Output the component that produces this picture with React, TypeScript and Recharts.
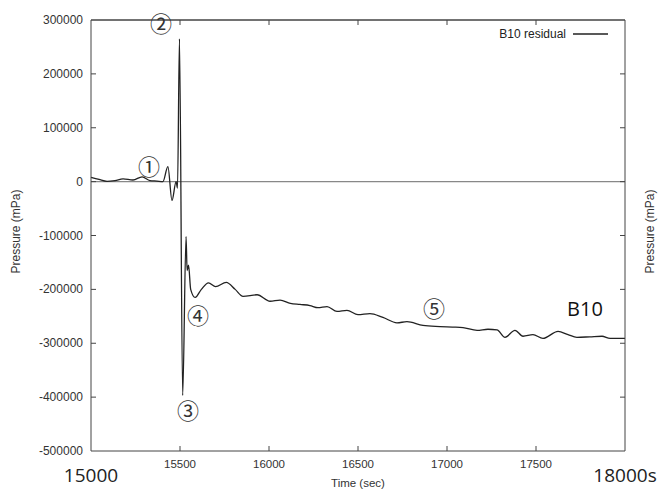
import React from 'react';
import { LineChart, Line, XAxis, YAxis, ReferenceLine, ReferenceDot, Label } from 'recharts';

const times = [
  15000, 15045, 15090, 15135, 15180, 15236, 15287, 15331, 15370, 15404, 15432, 15455, 15478, 15486,
  15497, 15515, 15534, 15540, 15548, 15560, 15585, 15620, 15660, 15700, 15760, 15810, 15854, 15933,
  16006, 16062, 16120, 16174, 16230, 16275, 16326, 16382, 16438, 16500, 16567, 16640, 16719, 16775,
  16865, 16961, 17030, 17090, 17169, 17230, 17281, 17326, 17382, 17427, 17483, 17539, 17624, 17680,
  17730, 17803, 17871, 17916, 18000,
];
const residual = [
  8000, 4000, 500, 2000, 5000, 3000, 9000, 2000, 1000, 0, 28000, -35000, 0, -12000,
  265000, -397000, -102000, -165000, -155000, -200000, -215000, -200000, -188000, -195000, -187000, -200000, -213000, -210000,
  -222000, -220000, -226000, -228000, -230000, -234000, -232000, -241000, -239000, -247000, -245000, -252000, -262000, -260000,
  -267000, -269000, -270000, -271000, -276000, -274000, -275000, -289000, -276000, -287000, -284000, -291000, -278000, -284000,
  -289000, -288000, -287000, -291000, -291000,
];
const xTicks = [15000, 15500, 16000, 16500, 17000, 17500, 18000];
const yTicks = [300000, 200000, 100000, 0, -100000, -200000, -300000, -400000, -500000];
const seriesName = 'B10 residual';
const annotations = [
  { t: 15326, v: 26000, text: '①' },
  { t: 15393, v: 293000, text: '②' },
  { t: 15545, v: -427000, text: '③' },
  { t: 15601, v: -250000, text: '④' },
  { t: 16927, v: -236000, text: '⑤' },
];
const bigLabel = { t: 17775, v: -236000, text: 'B10' };

const data = times.map((t, i) => ({ t, p: residual[i] }));

const AX = '#444';
const TXT = '#333';
const SANS = '"Liberation Sans", Arial, sans-serif';
const BIG = '"Open Sans", "Noto Sans", sans-serif';

const BottomTick = (props: any) => {
  const { x, y, payload } = props;
  const v = payload.value;
  if (v === 15000 || v === 18000) {
    return (
      <g>
        <text x={x} y={y + 31} textAnchor="middle" fontFamily={BIG} fontSize={19} fill="#222">
          {v === 18000 ? '18000s' : '15000'}
        </text>
      </g>
    );
  }
  return (
    <g>
      <line x1={x} x2={x} y1={y} y2={y - 5} stroke={AX} />
      <text x={x} y={y + 17} textAnchor="middle" fontFamily={SANS} fontSize={11.5} fill={TXT}>
        {v}
      </text>
    </g>
  );
};

const TopTick = (props: any) => {
  const { x, y, payload } = props;
  if (payload.value === 15000 || payload.value === 18000) return <g />;
  return <line x1={x} x2={x} y1={y} y2={y + 5} stroke={AX} />;
};

const LeftTick = (props: any) => {
  const { x, y, payload } = props;
  const v = payload.value;
  const edge = v === 300000 || v === -500000;
  return (
    <g>
      {!edge && <line x1={x} x2={x + 5} y1={y} y2={y} stroke={AX} />}
      <text x={x - 8} y={y + 4} textAnchor="end" fontFamily={SANS} fontSize={12} fill={TXT}>
        {v}
      </text>
    </g>
  );
};

const RightTick = (props: any) => {
  const { x, y, payload } = props;
  const v = payload.value;
  if (v === 300000 || v === -500000) return <g />;
  return <line x1={x} x2={x - 5} y1={y} y2={y} stroke={AX} />;
};

const VLabel = (props: any) => {
  const { viewBox, value, side } = props;
  const cx = side === 'left' ? 16 : viewBox.x + 25;
  const cy = viewBox.y + viewBox.height / 2 - 4;
  return (
    <text x={cx} y={cy} transform={`rotate(-90 ${cx} ${cy})`} textAnchor="middle" dominantBaseline="central" fontFamily={SANS} fontSize={12} fill={TXT}>
      {value}
    </text>
  );
};

const XLabel = (props: any) => {
  const { viewBox } = props;
  return (
    <text x={viewBox.x + viewBox.width / 2} y={viewBox.y + viewBox.height - 3} textAnchor="middle" fontFamily={SANS} fontSize={11.5} fill={TXT}>
      Time (sec)
    </text>
  );
};

export default function App() {
  return (
    <div style={{ position: 'absolute', left: 0, top: 0, width: 658, height: 490, background: '#fff' }}>
      <LineChart width={658} height={490} data={data} margin={{ top: 19, right: 0, bottom: 0, left: 0 }}>
        <XAxis
          dataKey="t"
          type="number"
          domain={[15000, 18000]}
          ticks={xTicks}
          height={39}
          stroke={AX}
          tickLine={false}
          tickSize={0}
          tickMargin={0}
          tick={<BottomTick />}
        >
          <Label content={<XLabel />} />
        </XAxis>
        <XAxis
          xAxisId="top"
          orientation="top"
          dataKey="t"
          type="number"
          domain={[15000, 18000]}
          ticks={xTicks}
          height={1}
          stroke={AX}
          tickLine={false}
          tickSize={0}
          tickMargin={0}
          tick={<TopTick />}
        />
        <YAxis
          type="number"
          domain={[-500000, 300000]}
          ticks={yTicks}
          width={91}
          stroke={AX}
          tickLine={false}
          tickSize={0}
          tickMargin={0}
          tick={<LeftTick />}
        >
          <Label content={<VLabel side="left" value="Pressure (mPa)" />} />
        </YAxis>
        <YAxis
          yAxisId="right"
          orientation="right"
          type="number"
          domain={[-500000, 300000]}
          ticks={yTicks}
          width={33}
          stroke={AX}
          tickLine={false}
          tickSize={0}
          tickMargin={0}
          tick={<RightTick />}
        >
          <Label content={<VLabel side="right" value="Pressure (mPa)" />} />
        </YAxis>
        <ReferenceLine y={300000} stroke={AX} strokeWidth={1} ifOverflow="visible" />
        <ReferenceLine y={0} stroke="#888" strokeWidth={1.3} />
        <Line
          xAxisId="top"
          yAxisId="right"
          dataKey="p"
          stroke="none"
          dot={false}
          isAnimationActive={false}
        />
        <Line
          type="monotone"
          dataKey="p"
          name={seriesName}
          stroke="#222"
          strokeWidth={1.3}
          dot={false}
          activeDot={false}
          isAnimationActive={false}
        />
        {annotations.map((a) => (
          <ReferenceDot
            key={a.text}
            x={a.t}
            y={a.v}
            r={0}
            fill="none"
            stroke="none"
            ifOverflow="visible"
            label={{ value: a.text, position: 'center', fontSize: 22, fill: '#333', fontFamily: '"Noto Sans CJK JP", "DejaVu Sans", sans-serif' }}
          />
        ))}
        <ReferenceDot
          x={bigLabel.t}
          y={bigLabel.v}
          r={0}
          fill="none"
          stroke="none"
          ifOverflow="visible"
          label={{ value: bigLabel.text, position: 'center', fontSize: 20, fill: '#111', fontFamily: BIG }}
        />
      </LineChart>
      <div
        style={{
          position: 'absolute',
          top: 25,
          left: 440,
          width: 175,
          height: 18,
          display: 'flex',
          alignItems: 'center',
          justifyContent: 'flex-end',
          fontFamily: SANS,
          fontSize: 12,
          color: '#222',
        }}
      >
        <span>{seriesName}</span>
        <svg width={42} height={10} style={{ marginLeft: 7 }}>
          <line x1={0} x2={35} y1={5} y2={5} stroke="#222" strokeWidth={1.3} />
        </svg>
      </div>
    </div>
  );
}
